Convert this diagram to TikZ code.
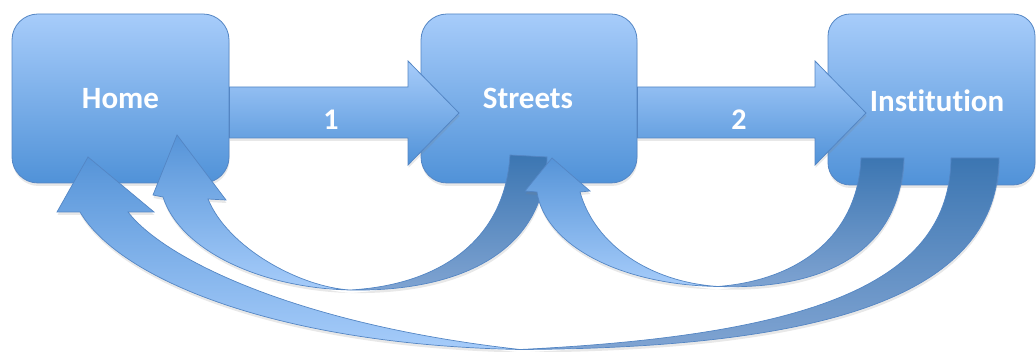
\documentclass[tikz,border=0pt]{standalone}
\usepackage{fontspec}
\setmainfont{Carlito}[Ligatures=NoCommon]
\usetikzlibrary{shadows}
\definecolor{boxtop}{RGB}{167,204,250}
\definecolor{boxbot}{RGB}{80,146,216}
\definecolor{edgeblue}{RGB}{84,134,196}
\definecolor{lighttop}{RGB}{86,148,216}
\definecolor{lightbot}{RGB}{166,204,250}
\definecolor{darktop}{RGB}{60,118,178}
\definecolor{darkbot}{RGB}{128,164,210}
\begin{document}
\begin{tikzpicture}[x=1pt,y=-1pt,
  softshadow/.style={drop shadow={opacity=0.18,shadow xshift=0.5pt,shadow yshift=-3pt}},
  box/.style={draw=edgeblue,line width=0.8pt,rounded corners=26pt,top color=boxtop,bottom color=boxbot,
    inner sep=0pt,softshadow},
  lbl/.style={text=white,font=\fontsize{31}{36}\selectfont\bfseries,inner sep=0pt},
  num/.style={text=white,font=\fontsize{30}{36}\selectfont\bfseries,inner sep=0pt},
  blockarrow/.style={draw=edgeblue,line width=0.8pt,top color=boxtop,bottom color=boxbot,softshadow},
  lightpart/.style={draw=edgeblue,line width=0.7pt,top color=lighttop,bottom color=lightbot,softshadow},
  darkpart/.style={draw=edgeblue,line width=0.7pt,top color=darktop,bottom color=darkbot,softshadow}
]
\useasboundingbox (0,0) rectangle (1036,352);

% boxes
\node[box,minimum width=217pt,minimum height=169pt] (home) at (120.5,98.5) {};
\node[box,minimum width=216pt,minimum height=169pt] (streets) at (529,98.5) {};
\node[box,rounded corners=22pt,minimum width=207pt,minimum height=171pt] (inst) at (931.5,99.5) {};

% straight block arrows
\path[blockarrow] (home.east |- 0,87) -- (408,87) -- (408,61) -- (459,113) -- (408,165) -- (408,138) -- (home.east |- 0,138) -- cycle;
\path[blockarrow] (streets.east |- 0,87) -- (815,87) -- (815,61) -- (866,113) -- (815,165) -- (815,138) -- (streets.east |- 0,138) -- cycle;

% curved arrows: back (dark) faces
\path[darkpart] (510,155) -- (547,157) .. controls (545,255) and (455,292) .. (350,290)
  .. controls (440,285) and (505,240) .. (510,155) -- cycle;
\path[darkpart] (951,158) -- (999,158) .. controls (998,290) and (840,348) .. (520,349.5)
  .. controls (820,335) and (950,280) .. (951,158) -- cycle;
\path[darkpart] (861,158) -- (904,158) .. controls (900,255) and (820,290) .. (718,286.5)
  .. controls (800,280) and (858,235) .. (861,158) -- cycle;

% curved arrows: front (light) faces with heads
\path[lightpart] (350,290) .. controls (260,288) and (180,250) .. (163,197) -- (153,195) -- (177,135)
  -- (226,200) -- (208,199) .. controls (228,248) and (300,287) .. (350,290) -- cycle;
\path[lightpart] (520,349.5) .. controls (280,345) and (120,280) .. (80,212) -- (57,212) -- (88,157)
  -- (154,212) -- (128,212) .. controls (165,260) and (300,325) .. (520,349.5) -- cycle;
\path[lightpart] (718,286.5) .. controls (620,285) and (545,245) .. (537,192) -- (525,191) -- (552,158)
  -- (590,191) -- (580,192) .. controls (595,245) and (650,282) .. (718,286.5) -- cycle;

% labels
\node[lbl] (homelbl) at (home.center) {Home};
\node[lbl] (streetslbl) at (528,98.5) {Streets};
\node[lbl] (instlbl) at (937,100.5) {Institution};
\node[num] (one) at (331,119.5) {1};
\node[num] (two) at (739,119.5) {2};
\end{tikzpicture}
\end{document}
